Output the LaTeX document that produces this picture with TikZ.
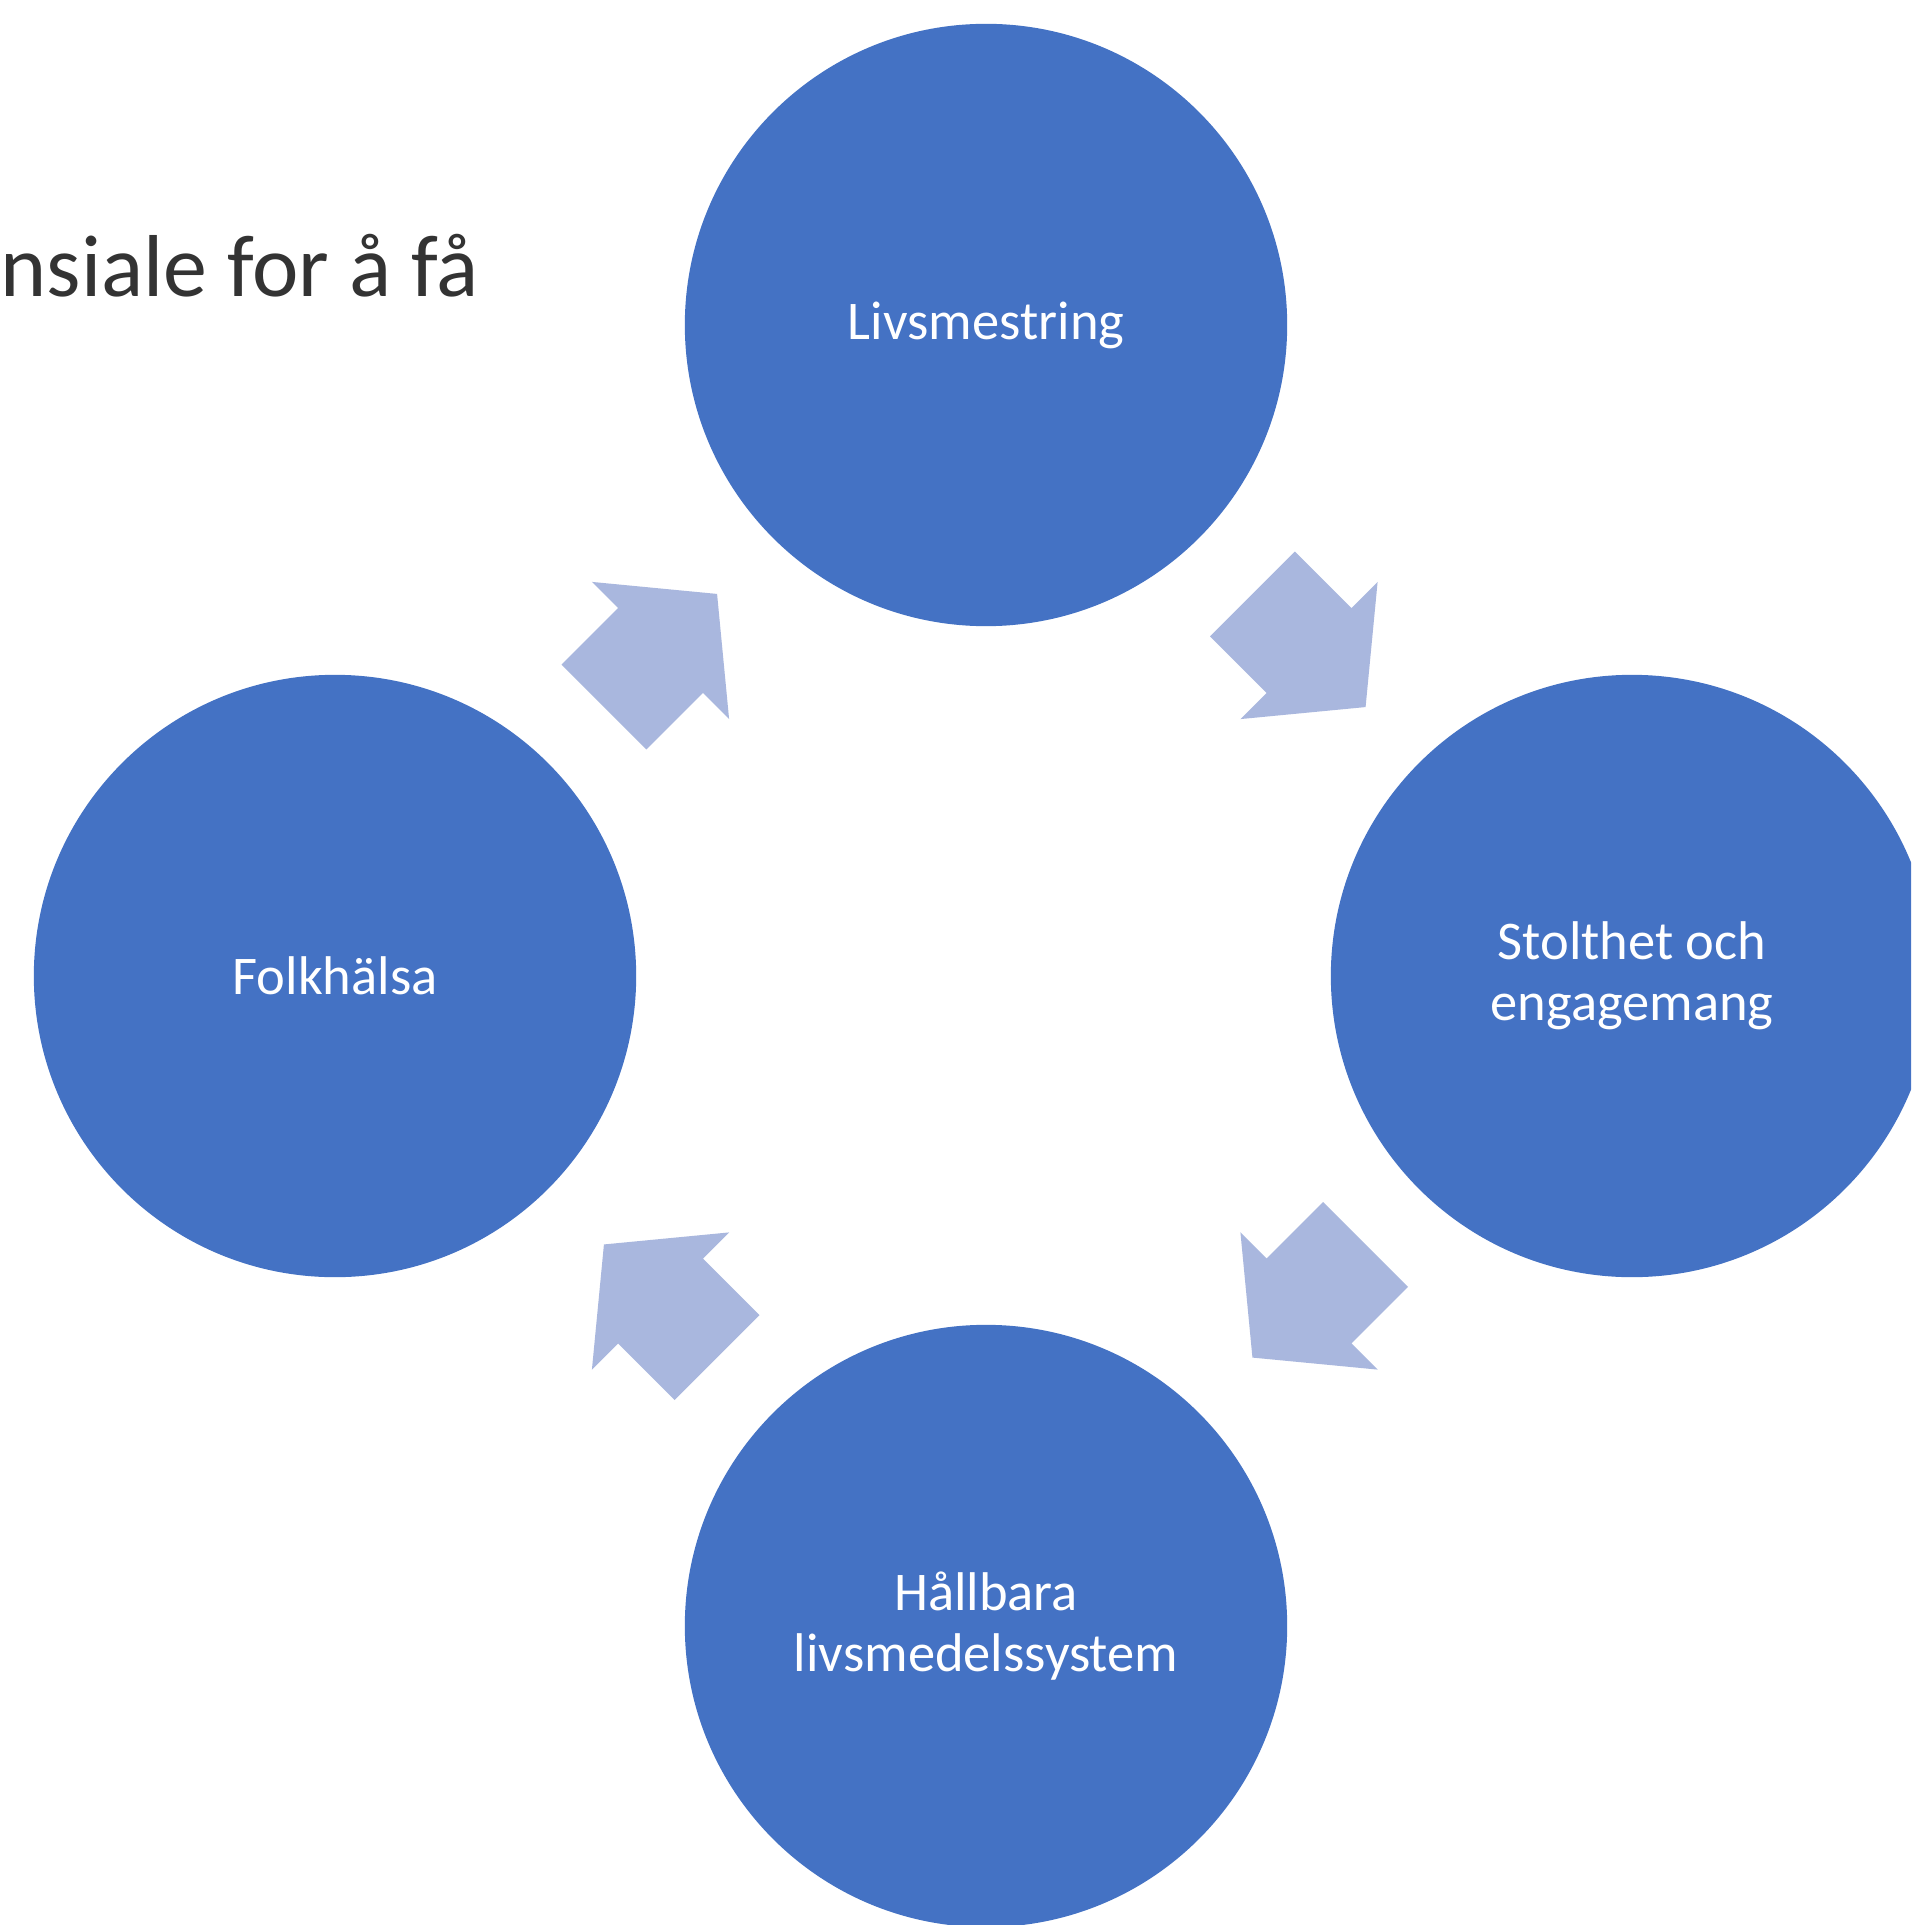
\documentclass[tikz,border=0pt]{standalone}
\usepackage{fontspec}
\setmainfont{Carlito}
\usetikzlibrary{calc}
\definecolor{circblue}{HTML}{4472C4}
\definecolor{arrblue}{HTML}{A9B7DE}
\definecolor{titletext}{HTML}{333333}
\tikzset{
  bubble/.style={circle, fill=circblue, draw=none, inner sep=0pt,
    minimum size=6.02cm, text=white, align=center,
    font=\fontsize{15.5}{17.4}\selectfont},
  blockarrow/.style={fill=arrblue, draw=none},
  titlestyle/.style={anchor=base west, inner sep=0pt, text=titletext,
    font=\fontsize{25}{30}\selectfont}
}
\newcommand\cyclearrow[2]{%
  \fill[blockarrow, shift={(#1)}, rotate=#2]
    (-80,-60) -- (0,-60) -- (0,-97) -- (80,0) -- (0,97) -- (0,60) -- (-80,60) -- cycle;}
\begin{document}
\begin{tikzpicture}[x=0.01cm, y=-0.01cm]
  \useasboundingbox (0,0) rectangle (1911,1925);
  \clip (0,0) rectangle (1911,1925);
  \fill[white] (0,0) rectangle (1911,1925);

  \node[titlestyle] (title) at (0,297) {nsiale for å få};

  \node[bubble] (lm) at (986,325) {Livsmestring};
  \node[bubble] (se) at (1632,976) {Stolthet och\\engagemang};
  \node[bubble] (hl) at (986,1626) {Hållbara\\livsmedelssystem};
  \node[bubble] (fh) at (335,976) {Folkhälsa};

  \coordinate (a1) at ($(fh)!0.5!(lm)$);
  \coordinate (a2) at ($(lm)!0.5!(se)$);
  \coordinate (a3) at ($(se)!0.5!(hl)$);
  \coordinate (a4) at ($(hl)!0.5!(fh)$);

  \cyclearrow{a1}{45}
  \cyclearrow{a2}{-45}
  \cyclearrow{a3}{-135}
  \cyclearrow{a4}{135}
\end{tikzpicture}
\end{document}
